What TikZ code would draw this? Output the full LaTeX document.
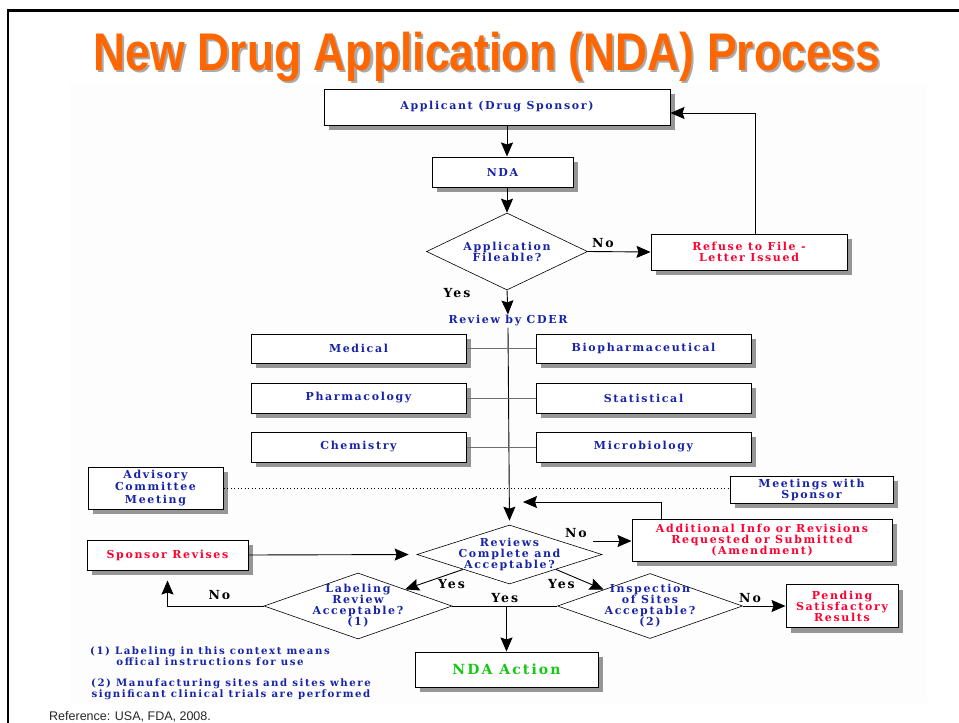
\documentclass[tikz,border=0pt]{standalone}
\usepackage{fontspec}
\setmainfont{Liberation Serif}
\newfontfamily\flowfont[LetterSpace=15]{DejaVu Serif}
\newfontfamily\titlefont{Liberation Sans}
\usepackage{xcolor}
\usepackage{graphicx}
\usetikzlibrary{arrows.meta,positioning,shapes.geometric,shadows}

\definecolor{flowblue}{RGB}{24,36,168}
\definecolor{flowred}{RGB}{255,0,48}
\definecolor{flowgreen}{RGB}{20,200,20}
\definecolor{titleorange}{RGB}{255,102,0}
\definecolor{titleshade}{RGB}{170,170,170}
\definecolor{boxshade}{RGB}{150,150,150}
\definecolor{linkgray}{RGB}{110,110,110}
\newcommand{\ndatitle}{New Drug Application (NDA) Process}

\begin{document}
\begin{tikzpicture}[
    x=1pt, y=-1pt,
    box/.style={rectangle, draw, line width=1pt, fill=white, drop shadow={shadow xshift=5pt, shadow yshift=-5pt, fill=boxshade, opacity=1}, align=center, text=flowblue, inner sep=0pt, font=\flowfont\bfseries\fontsize{11}{11}\selectfont},
    decision/.style={diamond, draw, line width=0.6pt, fill=white, align=center, text=flowblue, inner sep=-30pt, font=\flowfont\bfseries\fontsize{11}{11}\selectfont},
    note/.style={align=center, text=flowblue, inner sep=1pt, font=\flowfont\bfseries\fontsize{10.2}{11}\selectfont},
    lbl/.style={text=black, font=\flowfont\bfseries\fontsize{12.5}{13}\selectfont},
    arrow/.style={-{Stealth[length=14pt, width=12pt, inset=2pt]}, line width=0.9pt},
    link/.style={draw=linkgray, line width=0.9pt}
  ]
    \useasboundingbox (0,0) rectangle (959,723);
    \fill[black!0.6] (70,84) rectangle (927,703);
    \draw[line width=2.5pt] (8,723) -- (8,10.5) -- (959,10.5);

    \node[anchor=base, inner sep=0pt, text=titleorange, font=\titlefont\bfseries\fontsize{53}{60}\selectfont] (title) at (487,70)
      {\scalebox{0.84}[1]{\rlap{\hspace*{2.5pt}\raisebox{-2.5pt}{\color{titleshade}\ndatitle}}\ndatitle}};

    \node[box, minimum width=346pt, minimum height=36pt] (app) at (497,107) {Applicant (Drug Sponsor)};
    \node[box, minimum width=141pt, minimum height=30pt] (nda) at (502.5,172) {NDA};
    \node[decision, minimum width=161pt, minimum height=77pt] (file) at (507,251.5) {Application\\Fileable?};
    \node[box, text=flowred, minimum width=196pt, minimum height=36pt] (refuse) at (749,252) {Refuse to File -\\Letter Issued};
    \node[note, inner sep=1pt, font=\flowfont\bfseries\fontsize{11}{11}\selectfont] (cder) at (508,321) {Review by CDER};

    \node[box, minimum width=215pt, minimum height=29pt] (med) at (358.5,348.5) {Medical};
    \node[box, minimum width=215pt, minimum height=29pt, right=69pt of med] (bio) {Biopharmaceutical};
    \node[box, minimum width=215pt, minimum height=30pt] (pharm) at (358.5,398) {Pharmacology};
    \node[box, minimum width=215pt, minimum height=30pt, right=69pt of pharm] (stat) {Statistical};
    \node[box, minimum width=215pt, minimum height=30pt] (chem) at (358.5,447) {Chemistry};
    \node[box, minimum width=215pt, minimum height=30pt, right=69pt of chem] (micro) {Microbiology};

    \node[box, minimum width=135pt, minimum height=42pt, font=\flowfont\bfseries\fontsize{11}{12.5}\selectfont] (adv) at (155.5,488) {Advisory\\Committee\\Meeting};
    \node[box, minimum width=163pt, minimum height=27pt] (meet) at (811.5,489.5) {Meetings with\\Sponsor};
    \node[decision, minimum width=185pt, minimum height=59pt] (rev) at (509.5,554.5) {Reviews\\Complete and\\Acceptable?};
    \node[box, text=flowred, minimum width=260pt, minimum height=42pt] (add) at (762,540) {Additional Info or Revisions\\Requested or Submitted\\(Amendment)};
    \node[box, text=flowred, minimum width=161pt, minimum height=30pt] (spons) at (167.5,555) {Sponsor Revises};
    \node[decision, minimum width=188pt, minimum height=66pt] (label) at (358,606) {Labeling\\Review\\Acceptable?\\(1)};
    \node[decision, minimum width=185pt, minimum height=65pt] (insp) at (650,606) {Inspection\\of Sites\\Acceptable?\\(2)};
    \node[box, text=flowred, minimum width=112pt, minimum height=43pt] (pend) at (842,606) {Pending\\Satisfactory\\Results};
    \node[box, text=flowgreen, minimum width=183pt, minimum height=35pt, font=\flowfont\bfseries\fontsize{14}{14}\selectfont] (act) at (506.5,669.5) {NDA Action};

    \node[note] (fn1) at (210,656) {(1) Labeling in this context means\\offical instructions for use};
    \node[note] (fn2) at (231,689) {(2) Manufacturing sites and sites where\\significant clinical trials are performed};
    \node[anchor=base west, inner sep=0pt, text=black!85, font=\titlefont\fontsize{12.5}{14}\selectfont] (ref) at (49,720) {Reference: USA, FDA, 2008.};

    \coordinate (ret) at (523,502);
    \coordinate (noR) at (593,541);

    \draw[arrow] (app.south -| file.north) -- (nda.north -| file.north);
    \draw[arrow] (nda.south -| file.north) -- (file.north);
    \draw[arrow] (file.east) -- node[lbl, above, pos=0.24]{No} (refuse.west);
    \draw[arrow] ([xshift=6pt]refuse.north) |- ([yshift=-6pt]app.east);
    \draw[arrow] (file.south) -- node[lbl, left=33pt, pos=0.1]{Yes} (cder.north);
    \draw[arrow, shorten >=4pt] (cder.south) -- (rev.north);
    \draw[link] (med.east) -- (bio.west);
    \draw[link] (pharm.east) -- (stat.west);
    \draw[link] (chem.east) -- (micro.west);
    \draw[dash pattern=on 1pt off 2.5pt, line width=0.8pt] (adv.east) -- (adv.east -| meet.west);
    \draw[arrow] ([xshift=-101pt]add.north) |- (ret);
    \draw[arrow] (noR) -- node[lbl, above, pos=0, xshift=-17pt]{No} (noR -| add.west);
    \draw[arrow, shorten >=8pt] (spons.east) -- (rev.west);
    \draw[arrow] (rev.south west) -- node[lbl, below=2pt, pos=0.2]{Yes} (label.north east);
    \draw[arrow] (rev.south east) -- node[lbl, below=2pt, pos=0.2, xshift=-4pt]{Yes} (insp.north west);
    \draw[arrow] (label.west) -| node[lbl, above=3pt, pos=0.23]{No} ([yshift=-10pt]spons.south);
    \draw (label.east) -- node[lbl, above]{Yes} (insp.west);
    \draw[arrow] (label.east -| act.north) -- (act.north);
    \draw[arrow] (insp.east) -- node[lbl, above, pos=0.17]{No} (pend.west);
  \end{tikzpicture}
\end{document}
